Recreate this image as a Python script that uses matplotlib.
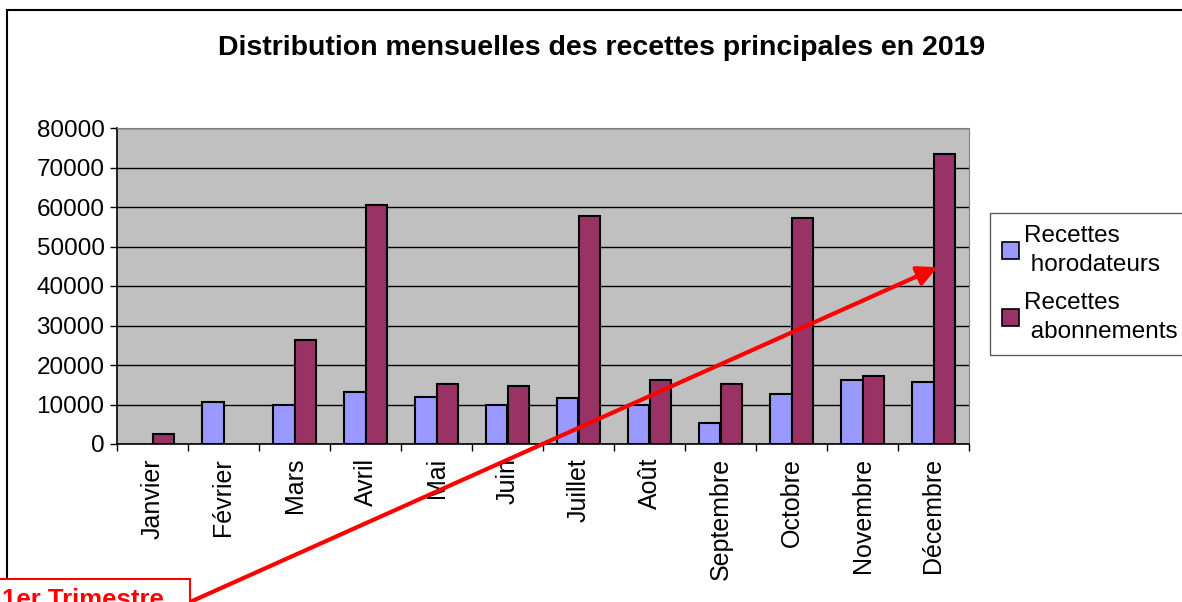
import numpy as np
import matplotlib
matplotlib.use("Agg")
import matplotlib.pyplot as plt
from matplotlib.patches import Rectangle, FancyArrowPatch

plt.rcParams['font.family'] = ['Liberation Sans', 'DejaVu Sans']

# données
mois = ['Janvier', 'Février', 'Mars', 'Avril', 'Mai', 'Juin', 'Juillet',
        'Août', 'Septembre', 'Octobre', 'Novembre', 'Décembre']
horodateurs = [0, 10700, 9900, 13200, 11800, 9900, 11700, 9900, 5200, 12600, 16150, 15650]
abonnements = [2450, 0, 26400, 60500, 15150, 14650, 57650, 16150, 15150, 57250, 17200, 73400]
y_ticks = [0, 10000, 20000, 30000, 40000, 50000, 60000, 70000, 80000]

W, H = 1182, 602
fig = plt.figure(figsize=(W / 100, H / 100), dpi=100)

def px(x, y):
    # pixels -> fraction de figure (origine en haut a gauche)
    return x / W, 1 - y / H

l, t = px(117, 128)
r, b = px(969, 444)
ax = fig.add_axes([l, b, r - l, t - b])
ax.set_facecolor('#C0C0C0')

# les valeurs nulles ne sont pas dessinees
h = np.array(horodateurs, dtype=float)
a = np.array(abonnements, dtype=float)
h[h == 0] = np.nan
a[a == 0] = np.nan

x = np.arange(len(mois))
w = 0.3
ax.bar(x - w / 2, h, w, color='#9999FF', edgecolor='black', linewidth=1.5,
       label='Recettes\n horodateurs', zorder=3)
ax.bar(x + w / 2, a, w, color='#993366', edgecolor='black', linewidth=1.5,
       label='Recettes\n abonnements', zorder=3)

ax.set_xlim(-0.5, len(mois) - 0.5)
ax.set_ylim(0, 80000)
ax.set_yticks(y_ticks)
ax.set_yticklabels([str(v) for v in y_ticks], fontsize=17.5)
ax.yaxis.grid(True, color='black', linewidth=1, zorder=1)
ax.set_axisbelow(True)

ax.set_xticks(x)
ax.set_xticklabels(mois, rotation=90, fontsize=18)
ax.tick_params(axis='x', which='major', length=0, pad=10)
ax.set_xticks(np.arange(-0.5, len(mois), 1), minor=True)
ax.tick_params(axis='x', which='minor', length=5, width=1, direction='out')
ax.tick_params(axis='y', length=5, width=1, direction='out', pad=4)

for s in ['top', 'right']:
    ax.spines[s].set_color('#808080')
for s in ['left', 'bottom']:
    ax.spines[s].set_color('black')
    ax.spines[s].set_linewidth(1.2)

fig.text(0.5 * (px(213, 0)[0] + px(990, 0)[0]), px(0, 48)[1],
         'Distribution mensuelles des recettes principales en 2019',
         ha='center', va='center', fontsize=20.5, fontweight='bold')

leg = fig.legend(loc='upper left', bbox_to_anchor=px(990, 213), fontsize=17.5,
                 frameon=True, fancybox=False, edgecolor='#333333',
                 handlelength=0.7, handleheight=0.7, handletextpad=0.2,
                 borderaxespad=0, borderpad=0.5, labelspacing=0.65)
leg.get_frame().set_linewidth(1)
for hd in leg.legend_handles:
    hd.set_linewidth(1.2)
for txt in leg.get_texts():
    txt.set_linespacing(1.4)

# cadre de la figure
x0, y0 = px(7, 10)
fig.patches.append(Rectangle((x0, -0.1), 1.2, y0 + 0.1, transform=fig.transFigure,
                             fill=False, edgecolor='black', linewidth=1.5))

# encadre 1er Trimestre
bx, by = px(190, 579)
fig.patches.append(Rectangle((-0.05, -0.1), bx + 0.05, by + 0.1, transform=fig.transFigure,
                             facecolor='white', edgecolor='red', linewidth=1.5, zorder=5))
fig.text(px(2, 0)[0], px(0, 588)[1], '1er Trimestre', ha='left', va='top',
         fontsize=18.5, fontweight='bold', color='red', zorder=6)

# fleche
arr = FancyArrowPatch(px(190, 602), px(940, 266), transform=fig.transFigure,
                      arrowstyle='-|>,head_length=12,head_width=6', color='red',
                      linewidth=3, mutation_scale=1, zorder=7)
fig.patches.append(arr)

fig.savefig('out.png', dpi=100)
